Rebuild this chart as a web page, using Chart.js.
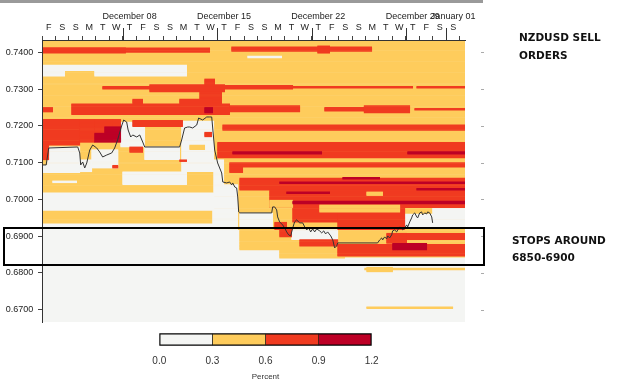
<!DOCTYPE html>
<html>
<head>
<meta charset="utf-8">
<script src="https://cdn.jsdelivr.net/npm/chart.js@4.4.1/dist/chart.umd.min.js"></script>
<style>
  html, body { margin: 0; padding: 0; background: #fff; }
  #wrap { position: relative; width: 625px; height: 383px; overflow: hidden; }
  #main { position: absolute; left: 0; top: 0; }
  #scale { position: absolute; left: 140px; top: 326px; }
  #topbar { position: absolute; left: 0; top: 0; width: 483px; height: 3px; background: #9a9a9a; }
  #box { position: absolute; left: 3px; top: 226.5px; width: 482px; height: 39px; border: 2px solid #000; box-sizing: border-box; }
  .note { position: absolute; font-family: "DejaVu Sans", sans-serif; font-weight: bold; font-size: 10.5px; line-height: 12px; color: #111; white-space: nowrap; }
</style>
</head>
<body>
<div id="wrap">
  <div id="topbar"></div>
  <canvas id="main" width="625" height="383"></canvas>
  <canvas id="scale" width="260" height="56"></canvas>
  <div id="box"></div>
  <div class="note" style="left:519px; top:31px;">NZDUSD SELL</div>
  <div class="note" style="left:519px; top:48.7px;">ORDERS</div>
  <div class="note" style="left:512px; top:233.7px;">STOPS AROUND</div>
  <div class="note" style="left:512px; top:250.7px;">6850-6900</div>
</div>
<script>
// x = days since Fri 2 Dec 2016, y = NZDUSD price
const dayTickValues = [0,1,2,3,4,5,6,7,8,9,10,11,12,13,14,15,16,17,18,19,20,21,22,23,24,25,26,27,28,29,30,31];
const dayLabels = ['F','S','S','M','T','W','T','F','S','S','M','T','W','T','F','S','S','M','T','W','T','F','S','S','M','T','W','T','F','S','S'];
const monthTickDays = [6, 13, 20, 27, 30];
const monthLabels = ['December 08', 'December 15', 'December 22', 'December 29', 'January 01'];
const priceTicks = [0.67, 0.68, 0.69, 0.70, 0.71, 0.72, 0.73, 0.74];

// percent bands: [dayFrom, dayTo, priceLow, priceHigh]
const yellowBands = [
  [0, 31.38, 0.70172, 0.74335],
  [0, 12.81, 0.69357, 0.6971],
  [12.81, 31.38, 0.69166, 0.70172],
  [14.67, 31.38, 0.68622, 0.69166],
  [17.63, 22.45, 0.68404, 0.68622],
  [22.45, 31.38, 0.68431, 0.68622],
  [23.94, 31.38, 0.68063, 0.68117],
  [24.09, 26.01, 0.68023, 0.68159],
  [24.09, 30.47, 0.67029, 0.67083]
];
const whiteBands = [
  [15.26, 17.78, 0.73845, 0.73899],
  [0.05, 10.73, 0.73491, 0.73654],
  [0.05, 1.68, 0.73355, 0.73491],
  [3.91, 10.73, 0.73355, 0.73491],
  [0, 0.42, 0.70716, 0.70934],
  [0.42, 2.80, 0.70716, 0.71423],
  [2.80, 3.69, 0.70743, 0.7107],
  [3.69, 5.63, 0.70852, 0.71341],
  [5.84, 7.62, 0.71423, 0.72103],
  [7.62, 10.21, 0.7107, 0.71423],
  [10.36, 12.74, 0.70743, 0.72131],
  [12.74, 13.48, 0.70172, 0.7107],
  [13.48, 14.52, 0.70172, 0.7039],
  [5.99, 10.73, 0.7039, 0.70743],
  [0.79, 2.57, 0.70444, 0.70498],
  [0, 14.52, 0.6971, 0.70172],
  [12.66, 14.52, 0.69166, 0.6971],
  [14.67, 17.11, 0.69248, 0.69629],
  [18.52, 21.94, 0.68894, 0.69166],
  [26.91, 31.38, 0.69248, 0.69601],
  [28.98, 31.38, 0.69601, 0.69764]
];
const redBands = [
  [0, 12.44, 0.74008, 0.74117],
  [0, 6.20, 0.73981, 0.74117],
  [14.07, 24.46, 0.74035, 0.74144],
  [20.45, 21.34, 0.73981, 0.74171],
  [4.50, 7.99, 0.72988, 0.73069],
  [7.99, 13.55, 0.7292, 0.73137],
  [12.07, 12.81, 0.73083, 0.73273],
  [11.70, 13.33, 0.72593, 0.7292],
  [13.55, 18.60, 0.72988, 0.7311],
  [18.60, 27.50, 0.73015, 0.73069],
  [27.80, 31.38, 0.73015, 0.73069],
  [0, 0.79, 0.72376, 0.72512],
  [2.20, 13.92, 0.72294, 0.72593],
  [6.73, 7.47, 0.72593, 0.72729],
  [10.21, 12.66, 0.72593, 0.72729],
  [13.92, 19.12, 0.72376, 0.72539],
  [20.97, 23.90, 0.72403, 0.72512],
  [23.90, 27.28, 0.72348, 0.72539],
  [27.65, 31.38, 0.7243, 0.72484],
  [0, 2.80, 0.71477, 0.72185],
  [2.80, 3.91, 0.71559, 0.72185],
  [3.91, 5.24, 0.71614, 0.72185],
  [5.24, 5.84, 0.71886, 0.72185],
  [0, 0.50, 0.7107, 0.71477],
  [6.73, 10.43, 0.71967, 0.72158],
  [6.51, 7.47, 0.71287, 0.71423],
  [5.24, 5.63, 0.70852, 0.70934],
  [10.21, 10.73, 0.71015, 0.7107],
  [12.07, 12.59, 0.71695, 0.71831],
  [13.41, 31.38, 0.71886, 0.72022],
  [13.03, 31.38, 0.71124, 0.71559],
  [13.92, 31.38, 0.70879, 0.70988],
  [13.92, 14.89, 0.70716, 0.70879],
  [14.67, 31.38, 0.70254, 0.7058],
  [16.89, 31.38, 0.69764, 0.70254],
  [18.60, 21.94, 0.69384, 0.69764],
  [21.94, 26.91, 0.69166, 0.69764],
  [17.26, 18.15, 0.69166, 0.69384],
  [17.63, 18.52, 0.68976, 0.69221],
  [19.12, 21.94, 0.68731, 0.68894],
  [21.94, 31.38, 0.68459, 0.68785],
  [26.76, 31.38, 0.68894, 0.69085],
  [25.57, 27.05, 0.68812, 0.69085]
];
const yellowOver = [
  [10.96, 12.07, 0.71341, 0.71477],
  [24.09, 25.27, 0.70091, 0.702],
  [20.60, 26.54, 0.69656, 0.69846],
  [16.89, 18.60, 0.69764, 0.69982]
];
const darkBands = [
  [12.07, 12.66, 0.72348, 0.72512],
  [3.91, 5.84, 0.71559, 0.71804],
  [4.65, 5.84, 0.71804, 0.71967],
  [14.15, 20.75, 0.71219, 0.713],
  [27.13, 31.38, 0.71219, 0.713],
  [17.63, 31.38, 0.70417, 0.70471],
  [18.15, 21.34, 0.70145, 0.702],
  [18.60, 31.38, 0.69887, 0.69955],
  [26.01, 28.54, 0.68622, 0.68812],
  [27.80, 31.38, 0.70254, 0.70308],
  [22.31, 25.05, 0.70553, 0.70607]
];

// NZDUSD price trace
const priceDays = [0.01,0.31,0.50,2.65,2.80,2.87,3.02,3.17,3.32,3.54,3.76,4.06,4.28,4.50,4.80,5.17,5.39,5.61,5.88,6.06,6.28,6.39,6.58,6.73,7.03,7.25,7.47,7.62,10.21,10.36,10.58,10.81,10.96,11.18,11.48,11.62,11.92,12.22,12.44,12.59,12.81,13.03,13.33,13.41,13.70,13.92,14.07,14.15,14.30,14.44,14.52,14.59,14.67,17.04,17.11,17.26,17.41,17.48,17.63,17.85,18.00,18.15,18.30,18.45,18.60,18.74,18.89,19.12,19.34,19.49,19.64,19.79,19.93,20.08,20.23,20.38,20.60,20.75,20.90,21.04,21.19,21.42,21.57,21.71,21.86,21.94,24.90,25.05,25.20,25.27,25.42,25.57,25.64,25.79,25.94,26.01,26.16,26.31,26.39,26.54,26.68,26.76,26.91,27.05,27.13,27.28,27.42,27.50,27.65,27.80,27.87,28.02,28.16,28.24,28.39,28.54,28.61,28.76,28.91,28.98];
const priceValues = [0.70934,0.70934,0.71396,0.71423,0.7126,0.70934,0.71015,0.70852,0.70988,0.71341,0.71477,0.71396,0.71287,0.71151,0.71205,0.7126,0.71396,0.71614,0.71967,0.72158,0.72103,0.71886,0.71695,0.7175,0.71695,0.7175,0.71559,0.71423,0.71423,0.71614,0.7194,0.71967,0.71967,0.7194,0.72022,0.72212,0.72158,0.7224,0.7224,0.7224,0.71341,0.70988,0.70716,0.70471,0.70444,0.70471,0.7039,0.70444,0.70335,0.70308,0.70063,0.69656,0.69629,0.69629,0.69792,0.69792,0.6971,0.6952,0.69384,0.69302,0.69221,0.69112,0.6903,0.69003,0.69221,0.69384,0.69438,0.69357,0.69357,0.69248,0.69166,0.69221,0.69112,0.69194,0.69112,0.69194,0.69139,0.69085,0.69139,0.69057,0.69112,0.69003,0.68894,0.68676,0.68731,0.68812,0.68812,0.68894,0.68948,0.68894,0.68976,0.68921,0.69003,0.68948,0.6903,0.69139,0.69166,0.69112,0.69166,0.69248,0.69194,0.69166,0.69221,0.69302,0.69248,0.69384,0.69493,0.69574,0.69629,0.6952,0.69493,0.69629,0.69656,0.69574,0.69629,0.69601,0.69656,0.69629,0.6952,0.69357];

const legendLevels = [0, 0.3, 0.6, 0.9, 1.2];
const legendColors = ['#f4f5f3', '#fecc5c', '#f03b20', '#bd0026'];

Chart.defaults.font.family = "'Liberation Sans', Arial, sans-serif";
Chart.defaults.color = '#222';

// rows of the heat table, one bar per 0.00025 price step
const ROW = 0.00025;
function bandRows(bands) {
  const out = [];
  bands.forEach(([d0, d1, p0, p1]) => {
    const k0 = Math.round(p0 / ROW);
    const k1 = Math.max(Math.round(p1 / ROW), k0 + 1);
    for (let k = k0; k < k1; k++) out.push({ y: (2 * k + 1) * ROW / 2, x: [d0, d1] });
  });
  return out;
}
function heatSet(bands, color, order) {
  return {
    type: 'bar', indexAxis: 'y', data: bandRows(bands), backgroundColor: color,
    borderWidth: 0, grouped: false, barPercentage: 1, categoryPercentage: 1, order
  };
}

const plotDecor = {
  id: 'plotDecor',
  beforeDraw(chart) {
    const { ctx, chartArea: a } = chart;
    ctx.save();
    ctx.fillStyle = legendColors[0];
    ctx.fillRect(a.left, a.top, a.right - a.left, a.bottom - a.top);
    ctx.restore();
  },
  afterDraw(chart) {
    const { ctx, chartArea: a, scales } = chart;
    ctx.save();
    ctx.strokeStyle = '#333';
    ctx.lineWidth = 1;
    ctx.beginPath();
    ctx.moveTo(a.left, a.top + 0.5); ctx.lineTo(a.right, a.top + 0.5);
    ctx.moveTo(a.left + 0.5, a.top); ctx.lineTo(a.left + 0.5, a.bottom);
    ctx.stroke();
    monthTickDays.forEach(d => {
      const px = Math.round(scales.x.getPixelForValue(d)) + 0.5;
      ctx.beginPath(); ctx.moveTo(px, a.top - 12); ctx.lineTo(px, a.top); ctx.stroke();
    });
    ctx.strokeStyle = '#aaa';
    priceTicks.forEach(v => {
      const py = Math.round(scales.y.getPixelForValue(v)) + 0.5;
      ctx.beginPath(); ctx.moveTo(481, py); ctx.lineTo(484, py); ctx.stroke();
    });
    ctx.restore();
  }
};

const tickFont = { family: "'Liberation Sans', Arial, sans-serif", size: 9 };

new Chart(document.getElementById('main'), {
  type: 'bar',
  data: {
    datasets: [
      heatSet(yellowBands, legendColors[1], 6),
      heatSet(whiteBands, legendColors[0], 5),
      heatSet(redBands, legendColors[2], 4),
      heatSet(yellowOver, legendColors[1], 3),
      heatSet(darkBands, legendColors[3], 2),
      {
        type: 'line', order: 1,
        data: priceDays.map((d, i) => ({ x: d, y: priceValues[i] })),
        borderColor: '#333', borderWidth: 1, pointRadius: 0, tension: 0, fill: false
      }
    ]
  },
  options: {
    responsive: false,
    animation: false,
    events: [],
    layout: { padding: { left: 0, right: 160, top: 5, bottom: 61 } },
    plugins: { legend: { display: false }, tooltip: { enabled: false } },
    scales: {
      x: {
        type: 'linear', position: 'top', min: 0, max: 31.38, offset: false, weight: 0,
        afterBuildTicks: s => { s.ticks = dayTickValues.map(v => ({ value: v })); },
        afterFit: s => { s.height = 16; },
        grid: { display: true, drawOnChartArea: false, offset: false, drawTicks: true, tickLength: 4, tickColor: '#444' },
        border: { display: true, color: '#333' },
        ticks: { autoSkip: false, maxRotation: 0, labelOffset: 6.74, padding: 3, font: tickFont,
          callback: v => dayLabels[v] || '' }
      },
      x2: {
        type: 'linear', position: 'top', min: 0, max: 31.38, offset: false, weight: 1,
        afterBuildTicks: s => { s.ticks = monthTickDays.map(v => ({ value: v })); },
        afterFit: s => { s.height = 19; },
        grid: { display: false, drawTicks: false, offset: false },
        border: { display: false },
        ticks: { autoSkip: false, maxRotation: 0, labelOffset: 6.74, padding: 2, font: tickFont,
          callback: (v, i) => monthLabels[i] }
      },
      y: {
        type: 'linear', position: 'left', min: 0.6666, max: 0.74335, offset: false, beginAtZero: false,
        afterBuildTicks: s => { s.ticks = priceTicks.map(v => ({ value: v })); },
        afterFit: s => { s.width = 42; },
        grid: { display: true, drawOnChartArea: false, offset: false, tickLength: 4, tickColor: '#444' },
        border: { display: true, color: '#333' },
        ticks: { padding: 4.7, font: tickFont, callback: v => v.toFixed(4) }
      }
    }
  },
  plugins: [plotDecor]
});

// colour key
new Chart(document.getElementById('scale'), {
  type: 'bar',
  data: {
    labels: [''],
    datasets: legendColors.map((c, i) => ({
      data: [[legendLevels[i], legendLevels[i + 1]]],
      backgroundColor: c, borderColor: '#000', borderSkipped: false,
      borderWidth: { top: 1.5, bottom: 1.5, left: i === 0 ? 1.5 : 0.6, right: i === legendColors.length - 1 ? 1.5 : 0.6 },
      grouped: false, barPercentage: 1, categoryPercentage: 1
    }))
  },
  options: {
    indexAxis: 'y',
    responsive: false,
    animation: false,
    events: [],
    layout: { padding: { left: 19.3, right: 28.3, top: 7.3, bottom: 0 } },
    plugins: { legend: { display: false }, tooltip: { enabled: false } },
    scales: {
      y: { display: false },
      x: {
        type: 'linear', min: 0, max: 1.2,
        afterBuildTicks: s => { s.ticks = legendLevels.map(v => ({ value: v })); },
        afterFit: s => { s.height = 36.3; },
        grid: { display: false, drawTicks: false },
        border: { display: false },
        ticks: { padding: 10, color: '#333', font: { size: 10 }, callback: v => v.toFixed(1) },
        title: { display: true, text: 'Percent', color: '#333', font: { size: 8 }, padding: { top: 5, bottom: 0 } }
      }
    }
  }
});
</script>
</body>
</html>
